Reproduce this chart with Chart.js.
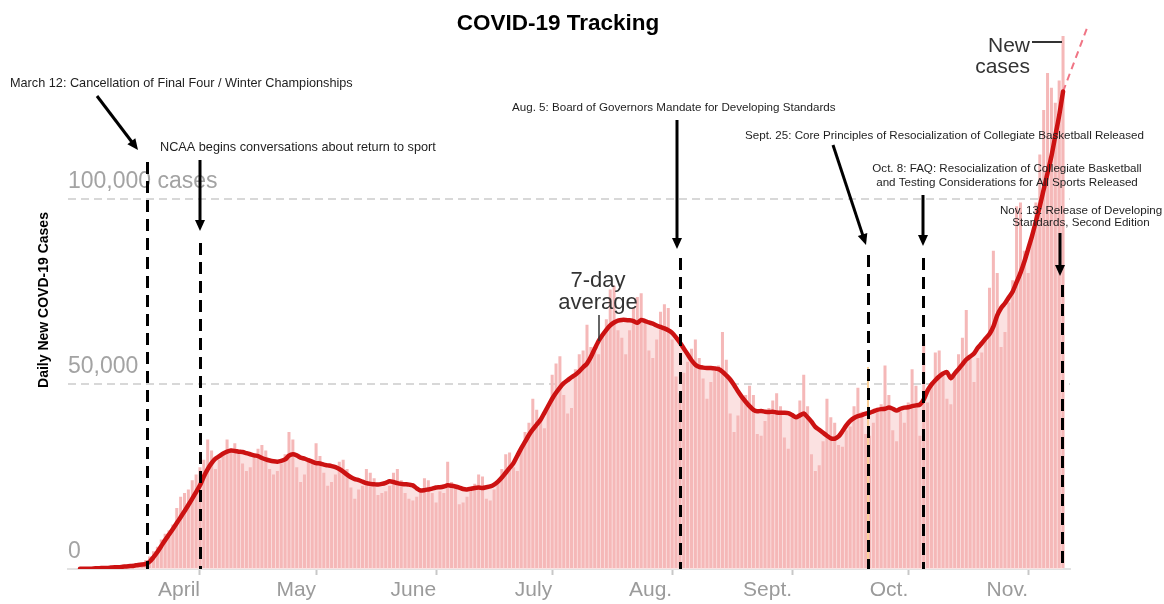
<!DOCTYPE html>
<html>
<head>
<meta charset="utf-8">
<title>COVID-19 Tracking</title>
<script src="https://cdn.jsdelivr.net/npm/chart.js@4.4.1/dist/chart.umd.min.js"></script>
<style>
  html, body { margin: 0; padding: 0; background: #fff; }
  #wrap { width: 1164px; height: 604px; }
</style>
</head>
<body>
<div id="wrap"><canvas id="chart" width="1164" height="604"></canvas></div>
<script>
const START_DATE = new Date(2020, 2, 1); // day 0 = March 1, 2020

// daily new cases (thousands), one value per day starting March 1
const dailyCases = [
  0.0, 0.0, 0.0, 0.0, 0.1, 0.1, 0.1,
  0.1, 0.2, 0.3, 0.4, 0.5, 0.6, 0.7,
  0.9, 1.2, 1.6, 2.4, 3.4, 4.8, 6.0,
  8.0, 9.5, 10.5, 12.0, 16.5, 19.5, 20.5,
  21.5, 24.0, 25.5, 27.5, 29.5, 35.0, 32.0,
  27.0, 29.5, 31.5, 35.0, 32.5, 34.0, 31.5,
  28.5, 26.5, 27.5, 30.5, 32.5, 33.5, 32.0,
  27.0, 25.5, 26.5, 28.5, 31.0, 37.0, 35.0,
  27.5, 23.5, 25.5, 29.0, 29.5, 34.0, 30.5,
  26.0, 22.5, 23.5, 25.5, 29.0, 29.5, 27.0,
  22.0, 19.0, 21.5, 22.5, 27.0, 26.0, 24.5,
  20.0, 20.5, 21.0, 22.5, 26.0, 27.0, 24.0,
  20.5, 19.0, 18.5, 19.5, 21.5, 24.5, 24.0,
  20.5, 18.0, 21.0, 20.5, 29.0, 23.5, 22.5,
  17.5, 18.0, 19.5, 21.5, 23.0, 25.5, 25.0,
  19.0, 18.5, 21.5, 24.0, 27.0, 31.0, 31.5,
  27.5, 26.5, 33.0, 37.0, 39.5, 46.0, 43.0,
  40.0, 38.0, 44.5, 52.5, 55.5, 57.5, 47.0,
  42.0, 43.5, 54.0, 58.0, 59.0, 66.0, 60.0,
  59.0, 58.0, 63.0, 67.5, 75.5, 76.5, 64.5,
  62.5, 58.0, 64.5, 70.5, 73.5, 74.5, 67.0,
  59.0, 57.0, 62.0, 69.5, 71.5, 70.5, 62.0,
  52.0, 47.5, 53.0, 56.0, 59.5, 62.0, 57.0,
  51.5, 46.0, 50.5, 54.0, 55.0, 64.0, 56.5,
  42.0, 37.0, 41.5, 46.5, 47.0, 49.5, 47.0,
  36.5, 36.0, 40.0, 43.5, 45.5, 47.5, 44.0,
  35.5, 32.5, 41.0, 40.5, 45.5, 52.5, 44.0,
  31.0, 26.5, 28.0, 34.5, 46.0, 41.0, 39.5,
  33.5, 33.0, 37.5, 38.5, 44.0, 49.0, 42.5,
  36.5, 36.0, 39.5, 42.5, 44.5, 55.0, 47.0,
  37.5, 34.5, 42.5, 39.5, 45.0, 54.0, 49.5,
  36.0, 62.0, 45.0, 50.5, 58.5, 59.0, 53.0,
  46.0, 44.5, 52.0, 58.0, 62.5, 70.0, 57.5,
  50.5, 57.0, 58.5, 62.0, 76.0, 86.0, 80.0,
  60.0, 64.0, 72.0, 78.0, 98.0, 99.0, 86.0,
  80.0, 90.0, 99.0, 112.0, 124.0, 134.0, 130.0,
  126.0, 132.0, 144.0
];

// 7-day average (thousands), same days
const sevenDayAvg = [
  0.1, 0.1, 0.1, 0.1, 0.2, 0.2, 0.3,
  0.3, 0.4, 0.5, 0.5, 0.6, 0.7, 0.8,
  0.9, 1.1, 1.2, 1.4, 2.0, 3.2, 4.6,
  6.2, 7.8, 9.3, 10.8, 12.4, 14.0, 15.6,
  17.3, 19.0, 20.8, 22.6, 25.0, 27.0, 28.6,
  29.8, 30.5, 31.2, 31.7, 32.0, 31.9, 31.7,
  31.6, 31.3, 31.0, 30.7, 30.5, 30.0, 29.6,
  29.3, 29.1, 29.0, 29.2, 29.6, 30.6, 31.0,
  30.7, 30.1, 29.8, 29.4, 29.0, 28.6, 28.5,
  28.2, 28.0, 27.8, 27.5, 27.0, 26.3, 25.5,
  24.8, 24.3, 24.0, 23.6, 23.2, 23.0, 22.9,
  22.8, 23.0, 23.3, 23.7, 23.5, 23.2, 23.0,
  22.9, 22.8, 22.6, 21.8, 21.2, 21.3, 21.5,
  21.7, 22.0, 22.1, 22.3, 22.6, 22.5, 22.3,
  22.0, 21.6, 21.5, 21.7, 21.9, 22.0, 21.9,
  22.1, 22.3, 22.8, 23.6, 24.7, 26.0, 27.3,
  28.6, 30.6, 32.6, 34.4, 36.2, 37.7, 39.0,
  40.3, 42.2, 44.1, 46.0, 47.6, 49.0, 50.2,
  51.0, 51.8, 52.5, 53.4, 54.5, 55.5, 57.3,
  59.5, 61.6, 63.2, 64.6, 65.8, 66.6, 67.1,
  67.3, 67.3, 67.2, 67.0, 66.5, 67.3, 67.0,
  66.6, 66.3, 65.8, 65.4, 65.0, 64.5, 63.8,
  62.6, 61.2, 59.6, 58.0, 56.4, 55.2, 54.6,
  54.4, 54.3, 54.3, 54.2, 54.0, 53.3, 52.3,
  51.2, 49.7, 48.0, 46.5, 45.2, 44.0, 43.0,
  42.6, 42.7, 42.5, 42.4, 42.5, 42.3, 42.2,
  42.2, 42.1, 41.6, 41.0, 41.5, 42.0, 41.0,
  39.8, 38.4, 37.6, 36.8, 36.0, 35.3, 35.2,
  35.8, 37.2, 38.8, 40.0, 40.8, 41.3, 41.6,
  42.0, 42.2, 42.6, 43.0, 43.2, 43.3, 43.6,
  43.3, 42.8, 43.3, 43.6, 43.7, 44.0, 44.2,
  44.4, 45.8, 48.2, 49.8, 51.0, 52.0, 52.8,
  53.2, 51.5, 52.8, 54.0, 55.3, 56.6, 57.4,
  58.2, 59.8, 61.0, 62.3, 63.5, 65.5, 68.5,
  70.5, 71.8, 73.4, 75.0, 77.5, 80.0, 83.0,
  86.5, 90.0, 94.0, 98.0, 102.5, 107.0, 111.5,
  117.0, 122.5, 129.0
];

// dashed continuation of the average past the last day
const projectionDays = [254, 260.5];
const projectionCases = [129, 147];

const monthLabels = ['April', 'May', 'June', 'July', 'Aug.', 'Sept.', 'Oct.', 'Nov.'];
const yTicks = [0, 50, 100];
const yTickLabels = ['0', '50,000', '100,000 cases'];

// day offsets where the event lines sit in the chart
const eventDays = [17.3, 31, 155, 203.6, 217.8, 253.7];
const eventTops = [162, 243, 258, 255, 258, 285];

const notes = [
  { text: 'March 12: Cancellation of Final Four / Winter Championships', x: 10, y: 86.5, align: 'left', size: 12.7 },
  { text: 'NCAA begins conversations about return to sport', x: 160, y: 151, align: 'left', size: 12.7 },
  { text: 'Aug. 5: Board of Governors Mandate for Developing Standards', x: 512, y: 111, align: 'left', size: 11.6 },
  { text: 'Sept. 25: Core Principles of Resocialization of Collegiate Basketball Released', x: 745, y: 138.5, align: 'left', size: 11.6 },
  { text: 'Oct. 8: FAQ: Resocialization of Collegiate Basketball', x: 1007, y: 171.5, align: 'center', size: 11.6 },
  { text: 'and Testing Considerations for All Sports Released', x: 1007, y: 185.5, align: 'center', size: 11.6 },
  { text: 'Nov. 13: Release of Developing', x: 1081, y: 213.5, align: 'center', size: 11.6 },
  { text: 'Standards, Second Edition', x: 1081, y: 225.5, align: 'center', size: 11.6 },
];

const arrows = [
  [97, 96, 138, 150],
  [200, 160, 200, 231],
  [677, 120, 677, 249],
  [833, 145, 866, 245],
  [923, 195, 923, 246],
  [1060, 233, 1060, 276],
];

const FONT = '"Liberation Sans", Arial, Helvetica, sans-serif';

function dayOf(date) {
  return Math.round((date - START_DATE) / 86400000);
}
const monthDays = monthLabels.map((_, k) => dayOf(new Date(2020, 3 + k, 1)));

const casePoints = dailyCases.map((v, i) => ({ x: i, y: v }));
const avgPoints = sevenDayAvg.map((v, i) => ({ x: i, y: v }));
const projPoints = projectionDays.map((d, i) => ({ x: d, y: projectionCases[i] }));

function drawArrow(ctx, x1, y1, x2, y2) {
  const ang = Math.atan2(y2 - y1, x2 - x1);
  const len = 11, half = 5;
  ctx.beginPath();
  ctx.moveTo(x1, y1);
  ctx.lineTo(x2 - Math.cos(ang) * len * 0.8, y2 - Math.sin(ang) * len * 0.8);
  ctx.stroke();
  ctx.beginPath();
  ctx.moveTo(x2, y2);
  ctx.lineTo(x2 - Math.cos(ang) * len - Math.sin(ang) * half, y2 - Math.sin(ang) * len + Math.cos(ang) * half);
  ctx.lineTo(x2 - Math.cos(ang) * len + Math.sin(ang) * half, y2 - Math.sin(ang) * len - Math.cos(ang) * half);
  ctx.closePath();
  ctx.fill();
}

const annotations = {
  id: 'annotations',
  afterDatasetsDraw(chart) {
    const { ctx, chartArea, scales } = chart;
    const xs = scales.x;
    ctx.save();

    // thin orange marker behind the Sept. 25 line
    ctx.strokeStyle = '#f9cf98';
    ctx.lineWidth = 2;
    ctx.beginPath();
    ctx.moveTo(xs.getPixelForValue(eventDays[3]), 367);
    ctx.lineTo(xs.getPixelForValue(eventDays[3]), chartArea.bottom);
    ctx.stroke();

    // dashed event lines
    ctx.strokeStyle = '#000';
    ctx.lineWidth = 3;
    ctx.setLineDash([12, 7]);
    eventDays.forEach((d, i) => {
      const x = Math.round(xs.getPixelForValue(d)) + 0.5;
      ctx.beginPath();
      ctx.moveTo(x, eventTops[i]);
      ctx.lineTo(x, chartArea.bottom);
      ctx.stroke();
    });
    ctx.setLineDash([]);

    // arrows
    ctx.fillStyle = '#000';
    ctx.lineWidth = 3;
    arrows.forEach(a => drawArrow(ctx, a[0], a[1], a[2], a[3]));

    // event notes
    ctx.fillStyle = '#1e1e1e';
    ctx.textBaseline = 'alphabetic';
    notes.forEach(n => {
      ctx.font = n.size + 'px ' + FONT;
      ctx.textAlign = n.align;
      ctx.fillText(n.text, n.x, n.y);
    });

    // series labels
    ctx.fillStyle = '#333';
    ctx.font = '22px ' + FONT;
    ctx.textAlign = 'center';
    ctx.fillText('7-day', 598, 286.5);
    ctx.fillText('average', 598, 308.5);
    ctx.strokeStyle = '#333';
    ctx.lineWidth = 1.5;
    ctx.beginPath();
    ctx.moveTo(599, 315);
    ctx.lineTo(599, 341);
    ctx.stroke();

    ctx.font = '21px ' + FONT;
    ctx.textAlign = 'right';
    ctx.fillText('New', 1030, 51.5);
    ctx.fillText('cases', 1030, 72.5);
    ctx.lineWidth = 2;
    ctx.beginPath();
    ctx.moveTo(1032, 42);
    ctx.lineTo(1062, 42);
    ctx.stroke();

    // title
    ctx.fillStyle = '#000';
    ctx.font = 'bold 22.5px ' + FONT;
    ctx.textAlign = 'center';
    ctx.fillText('COVID-19 Tracking', 558, 29.5);

    // y-axis title
    ctx.translate(48, 300);
    ctx.rotate(-Math.PI / 2);
    ctx.font = 'bold 14px ' + FONT;
    ctx.fillText('Daily New COVD-19 Cases', 0, 0);
    ctx.restore();
  }
};

new Chart(document.getElementById('chart'), {
  type: 'bar',
  data: {
    datasets: [
      {
        type: 'line',
        label: '7-day average',
        data: avgPoints,
        borderColor: '#cc1212',
        borderWidth: 4.5,
        backgroundColor: '#fbe1e1',
        fill: 'origin',
        pointRadius: 0,
        tension: 0.25,
        borderCapStyle: 'round',
        borderJoinStyle: 'round',
        order: 0,
      },
      {
        type: 'line',
        label: 'projection',
        data: projPoints,
        borderColor: '#f07585',
        borderWidth: 2,
        borderDash: [7, 5],
        pointRadius: 0,
        fill: false,
        clip: false,
        order: 1,
      },
      {
        type: 'bar',
        label: 'New cases',
        data: casePoints,
        backgroundColor: '#f5b8b8',
        barPercentage: 0.78,
        categoryPercentage: 1,
        order: 2,
      },
    ],
  },
  options: {
    responsive: false,
    animation: false,
    devicePixelRatio: 1,
    layout: { padding: { left: 68, right: 94, top: 11, bottom: 0 } },
    plugins: {
      legend: { display: false },
      tooltip: { enabled: false },
      filler: { drawTime: 'beforeDatasetsDraw' },
    },
    scales: {
      x: {
        type: 'linear',
        min: -3.1,
        max: 255.8,
        offset: false,
        afterBuildTicks: s => { s.ticks = monthDays.map(v => ({ value: v })); },
        afterFit: s => { s.height = 35; },
        grid: { offset: false, drawOnChartArea: false, drawTicks: true, tickLength: 6, tickColor: '#c8c8c8', tickWidth: 2 },
        border: { display: true, color: '#e2e2e2', width: 2 },
        ticks: {
          align: 'end',
          padding: 3,
          autoSkip: false,
          maxRotation: 0,
          color: '#9b9b9b',
          font: { family: FONT, size: 21 },
          callback: (v, i) => monthLabels[i],
        },
      },
      y: {
        min: 0,
        max: 150,
        afterBuildTicks: s => { s.ticks = yTicks.map(v => ({ value: v })); },
        afterFit: s => { s.width = 0; },
        grid: {
          drawTicks: false,
          lineWidth: 2,
          color: c => (c.tick && c.tick.value > 0 ? '#d8d8d8' : 'rgba(0,0,0,0)'),
        },
        border: { display: false, dash: [8, 5] },
        ticks: {
          mirror: true,
          padding: 0,
          labelOffset: -17,
          color: '#a3a3a3',
          font: { family: FONT, size: 23 },
          callback: (v, i) => yTickLabels[i],
        },
      },
    },
  },
  plugins: [annotations],
});
</script>
</body>
</html>
